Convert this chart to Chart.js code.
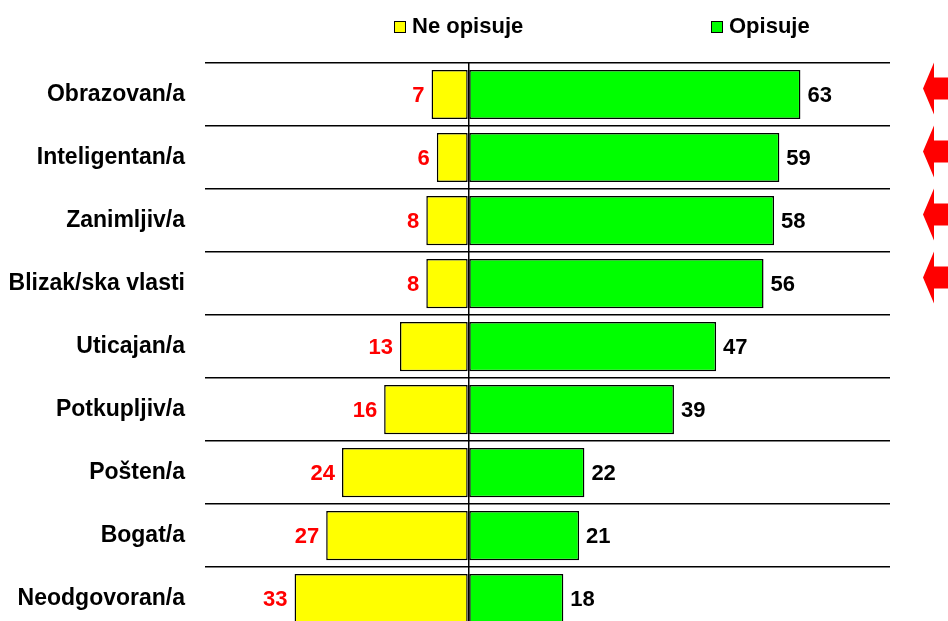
<!DOCTYPE html>
<html>
<head>
<meta charset="utf-8">
<script src="https://cdn.jsdelivr.net/npm/chart.js@4.4.1/dist/chart.umd.min.js"></script>
<style>
  html, body { margin: 0; padding: 0; background: #fff; overflow: hidden; }
  #c { display: block; width: 948px; height: 664px; }
</style>
</head>
<body>
<canvas id="c" width="948" height="664"></canvas>
<script>
const categories = ['Obrazovan/a', 'Inteligentan/a', 'Zanimljiv/a', 'Blizak/ska vlasti', 'Uticajan/a', 'Potkupljiv/a', 'Pošten/a', 'Bogat/a', 'Neodgovoran/a'];
const neOpisuje = [7, 6, 8, 8, 13, 16, 24, 27, 33];
const opisuje = [63, 59, 58, 56, 47, 39, 22, 21, 18];
const highlighted = [true, true, true, true, false, false, false, false, false];
const seriesNames = ['Ne opisuje', 'Opisuje'];

const FONT = "'Liberation Sans', Arial, sans-serif";

const valueLabels = {
  id: 'valueLabels',
  afterDatasetsDraw(chart) {
    const ctx = chart.ctx;
    ctx.save();
    ctx.font = 'bold 22px ' + FONT;
    ctx.textBaseline = 'middle';
    chart.data.datasets.forEach((ds, di) => {
      const meta = chart.getDatasetMeta(di);
      meta.data.forEach((bar, i) => {
        const v = ds.data[i];
        if (v < 0) {
          ctx.fillStyle = '#ff0000';
          ctx.textAlign = 'right';
          ctx.fillText(String(-v), bar.x - 7, bar.y + 1);
        } else {
          ctx.fillStyle = '#000000';
          ctx.textAlign = 'left';
          ctx.fillText(String(v), bar.x + 7, bar.y + 1);
        }
      });
    });
    ctx.restore();
  }
};

const customLegend = {
  id: 'customLegend',
  afterDraw(chart) {
    const ctx = chart.ctx;
    const xs = [394, 711];
    ctx.save();
    ctx.font = 'bold 22px ' + FONT;
    ctx.textBaseline = 'middle';
    ctx.textAlign = 'left';
    chart.data.datasets.forEach((ds, i) => {
      const x = xs[i], y = 27;
      ctx.fillStyle = ds.backgroundColor;
      ctx.fillRect(x, y - 6, 12, 12);
      ctx.strokeStyle = '#000';
      ctx.lineWidth = 1;
      ctx.strokeRect(x + 0.5, y - 5.5, 11, 11);
      ctx.fillStyle = '#000';
      ctx.fillText(ds.label, x + 18, y);
    });
    ctx.restore();
  }
};

const arrows = {
  id: 'arrows',
  afterDraw(chart) {
    const ctx = chart.ctx;
    const yScale = chart.scales.y;
    ctx.save();
    ctx.fillStyle = '#ff0000';
    highlighted.forEach((h, i) => {
      if (!h) return;
      const c = yScale.getPixelForValue(i) - 6;
      ctx.beginPath();
      ctx.moveTo(923, c);
      ctx.lineTo(934, c - 26);
      ctx.lineTo(934, c - 11);
      ctx.lineTo(950, c - 11);
      ctx.lineTo(950, c + 11);
      ctx.lineTo(934, c + 11);
      ctx.lineTo(934, c + 26);
      ctx.closePath();
      ctx.fill();
    });
    ctx.restore();
  }
};

new Chart(document.getElementById('c'), {
  type: 'bar',
  data: {
    labels: categories,
    datasets: [
      {
        label: seriesNames[0],
        data: neOpisuje.map(v => -v),
        backgroundColor: '#ffff00',
        borderColor: '#000000',
        borderWidth: 1.5,
        borderSkipped: false,
        barPercentage: 0.78,
        categoryPercentage: 1.0
      },
      {
        label: seriesNames[1],
        data: opisuje,
        backgroundColor: '#00ff00',
        borderColor: '#000000',
        borderWidth: 1.5,
        borderSkipped: false,
        barPercentage: 0.78,
        categoryPercentage: 1.0
      }
    ]
  },
  options: {
    indexAxis: 'y',
    responsive: false,
    maintainAspectRatio: false,
    animation: false,
    devicePixelRatio: 1,
    layout: { padding: { top: 63, right: 58, bottom: 10, left: 0 } },
    plugins: {
      legend: { display: false },
      tooltip: { enabled: false }
    },
    scales: {
      x: {
        stacked: true,
        min: -50,
        max: 80,
        ticks: { display: false, stepSize: 10 },
        border: { display: false },
        grid: {
          drawTicks: false,
          lineWidth: 1.5,
          color: (c) => (c.tick && c.tick.value === 0) ? '#000000' : 'rgba(0,0,0,0)'
        }
      },
      y: {
        stacked: true,
        afterFit: (s) => { s.width = 205; },
        border: { display: false },
        grid: { drawTicks: false, color: '#000000', lineWidth: 1.5, offset: true },
        ticks: {
          color: '#000000',
          padding: 20,
          font: { family: FONT, size: 23, weight: 'bold' }
        }
      }
    }
  },
  plugins: [valueLabels, customLegend, arrows]
});
</script>
</body>
</html>
